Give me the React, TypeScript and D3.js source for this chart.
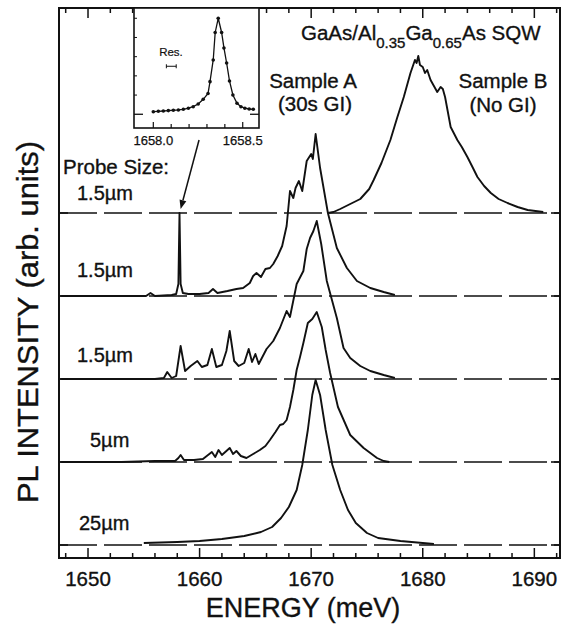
import React from "react";
import * as d3 from "d3";

// ---- Data ----
// Energies in meV, intensities in arbitrary units (trace spacing = 83 units)
const traceOffsets = [332, 249, 166, 83, 0];
const traceLabels = ["1.5\u00b5m", "1.5\u00b5m", "1.5\u00b5m", "5\u00b5m", "25\u00b5m"];

// Trace 1: Sample B (No GI), 1.5 µm probe
const sampleB15: [number, number][] = [
  [1671.5, 0], [1672.0, 1], [1672.6, 4], [1673.5, 9], [1674.4, 14], [1675.2, 24], [1675.6, 33],
  [1676.3, 50], [1677.1, 73], [1677.7, 95], [1678.3, 116], [1678.9, 140], [1679.3, 153],
  [1679.45, 150], [1679.6, 157], [1679.75, 148], [1680.0, 146], [1680.2, 140], [1680.4, 143],
  [1680.7, 133], [1681.3, 121], [1681.6, 126], [1681.8, 124], [1682.0, 116], [1682.5, 86],
  [1683.1, 73], [1683.5, 66], [1684.0, 56], [1684.5, 45], [1684.9, 36], [1685.5, 27],
  [1686.1, 20], [1686.8, 14], [1687.6, 10], [1688.5, 6], [1689.4, 3], [1690.8, 1],
];

// Trace 2: Sample A, 1.5 µm probe (with sharp line at 1658.2)
const sampleA15a: [number, number][] = [
  [1647.6, 0], [1652, 0], [1655.2, 0], [1655.6, 3], [1656, 0], [1657.5, 1], [1657.9, 2],
  [1658.1, 12], [1658.2, 83], [1658.3, 12], [1658.5, 3], [1659, 2], [1660, 2], [1660.8, 3],
  [1661.2, 7], [1661.6, 3], [1662.5, 5], [1663.3, 7], [1663.9, 8], [1664.5, 13], [1664.8, 20],
  [1665.1, 23], [1665.5, 19], [1665.9, 27], [1666.3, 28], [1666.6, 32], [1667.0, 40],
  [1667.4, 50], [1667.8, 70], [1668.1, 105], [1668.4, 98], [1668.6, 108], [1668.9, 115],
  [1669.2, 105], [1669.6, 135], [1670.0, 142], [1670.15, 137], [1670.4, 162], [1670.8, 128],
  [1671.5, 83], [1672.3, 48], [1673.2, 28], [1674.1, 15], [1675.3, 8], [1676.5, 4], [1677.5, 1],
];

// Trace 3: Sample A, 1.5 µm probe (another spot)
const sampleA15b: [number, number][] = [
  [1647.6, 0], [1656, 0], [1656.8, 1], [1657.1, 7], [1657.5, 1], [1657.9, 3], [1658.3, 33],
  [1658.7, 8], [1659.2, 13], [1659.8, 18], [1660.2, 12], [1660.7, 14], [1661.1, 30],
  [1661.5, 12], [1662.0, 14], [1662.4, 28], [1662.7, 48], [1663.1, 18], [1663.5, 13],
  [1664.0, 16], [1664.4, 30], [1664.7, 17], [1665.0, 25], [1665.3, 15], [1666.0, 30],
  [1666.6, 38], [1667.2, 51], [1667.8, 68], [1668.1, 62], [1668.7, 95], [1669.3, 108],
  [1669.6, 130], [1669.9, 141], [1670.2, 148], [1670.5, 158], [1670.9, 135], [1671.4, 98],
  [1672.3, 61], [1672.9, 31], [1673.5, 21], [1674.4, 13], [1675.3, 8], [1676.5, 4], [1677.5, 1],
];

// Trace 4: Sample A, 5 µm probe
const sampleA5: [number, number][] = [
  [1647.6, 0], [1653, 0], [1656, 1], [1657.8, 1], [1658.1, 4], [1658.3, 7], [1658.6, 2],
  [1659.5, 2], [1660.3, 3], [1661.1, 10], [1661.4, 5], [1661.7, 12], [1662, 7], [1662.4, 11],
  [1662.7, 14], [1663, 8], [1663.3, 11], [1663.7, 6], [1664.2, 4], [1664.8, 8], [1665.4, 12],
  [1665.9, 16], [1666.3, 22], [1666.8, 30], [1667.2, 37], [1667.5, 38], [1667.8, 42],
  [1668.1, 55], [1668.4, 72], [1668.7, 92], [1669.0, 105], [1669.3, 119], [1669.7, 139],
  [1670.1, 143], [1670.5, 150], [1670.95, 135], [1671.3, 112], [1671.7, 89], [1672.4, 55],
  [1673.5, 27], [1674.7, 14], [1675.9, 4], [1676.5, 1], [1677, 0],
];

// Trace 5: Sample A, 25 µm probe
const sampleA25: [number, number][] = [
  [1655, 2], [1658, 3], [1660, 4], [1662, 6], [1664, 9], [1665.5, 13], [1666.5, 18],
  [1667.3, 27], [1668, 38], [1668.7, 55], [1669.2, 80], [1669.7, 115], [1670.1, 150],
  [1670.4, 165], [1670.8, 150], [1671.3, 115], [1671.9, 80], [1672.6, 55], [1673.3, 35],
  [1674, 22], [1675, 12], [1676, 7], [1678, 4], [1680, 2], [1681, 1],
];

const traces = [sampleB15, sampleA15a, sampleA15b, sampleA5, sampleA25];

// Inset: high-resolution spectrum of the 1658.2 meV line
const insetEnergy = [
  1658.0, 1658.028, 1658.056, 1658.084, 1658.112, 1658.14, 1658.168, 1658.196, 1658.223,
  1658.251, 1658.279, 1658.306, 1658.317, 1658.335, 1658.346, 1658.363, 1658.382, 1658.395,
  1658.41, 1658.426, 1658.445, 1658.468, 1658.49, 1658.512, 1658.536, 1658.559,
];
const insetIntensity = [
  0.027, 0.031, 0.034, 0.038, 0.042, 0.045, 0.052, 0.063, 0.079, 0.107, 0.156, 0.217, 0.34,
  0.566, 0.852, 1.0, 0.852, 0.691, 0.534, 0.347, 0.201, 0.115, 0.079, 0.063, 0.055, 0.052,
];
const insetTickLabels = [1658.0, 1658.5];

const xMajorTicks = [1650, 1660, 1670, 1680, 1690];
const xMinorTicks = d3.range(1648, 1693, 2);

const FONT = "'Liberation Sans', Arial, Helvetica, sans-serif";
const INK = "#111";
const TS = 0.35; // slight text stroke to mimic the scanned print weight

export default function App() {
  const left = 59, right = 560, top = 8, bottom = 558;
  const x = d3.scaleLinear().domain([1647.4, 1692.3]).range([left, right]);
  const y = d3.scaleLinear().domain([-13, 537]).range([bottom, top]);

  const xi = d3.scaleLinear().domain([1657.892, 1658.591]).range([134, 259]);
  const yi = d3.scaleLinear().domain([-0.143, 1.107]).range([128, 8]);

  const lineFor = (off: number) =>
    d3
      .line<[number, number]>()
      .x((d) => x(d[0]))
      .y((d) => y(d[1] + off))
      .curve(d3.curveLinear);

  const insetPts = insetEnergy.map((e, i) => [e, insetIntensity[i]] as [number, number]);
  const insetLine = d3
    .line<[number, number]>()
    .x((d) => xi(d[0]))
    .y((d) => yi(d[1]));

  const labelY = [200, 277, 362, 447, 530];
  const labelX = [77, 77, 77, 90, 79];

  // Arrow from annotation to the sharp line
  const arrowStart: [number, number] = [1659.95, 405];
  const arrowEnd: [number, number] = [1658.3, 336];
  const ax1 = x(arrowStart[0]), ay1 = y(arrowStart[1]);
  const ax2 = x(arrowEnd[0]), ay2 = y(arrowEnd[1]);
  const ang = Math.atan2(ay2 - ay1, ax2 - ax1);
  const ah = 9, aw = 3.5;
  const headBase = [ax2 - ah * Math.cos(ang), ay2 - ah * Math.sin(ang)];
  const headPts = [
    [ax2, ay2],
    [headBase[0] + aw * Math.sin(ang), headBase[1] - aw * Math.cos(ang)],
    [headBase[0] - aw * Math.sin(ang), headBase[1] + aw * Math.cos(ang)],
  ];

  const txt = { fill: INK, stroke: INK, strokeWidth: TS };

  return (
    <svg
      width={577}
      height={628}
      style={{ position: "absolute", left: 0, top: 0, background: "#fff" }}
      fontFamily={FONT}
    >
      <rect x={0} y={0} width={577} height={628} fill="#fff" />

      {/* dashed baselines */}
      {traceOffsets.map((off, i) => (
        <line
          key={"bl" + i}
          x1={left}
          x2={right}
          y1={y(off)}
          y2={y(off)}
          stroke={INK}
          strokeWidth={1.6}
          strokeDasharray="38,7"
        />
      ))}

      {/* traces */}
      {traces.map((tr, i) => (
        <path
          key={"tr" + i}
          d={lineFor(traceOffsets[i])(tr) || ""}
          fill="none"
          stroke={INK}
          strokeWidth={1.9}
          strokeLinejoin="round"
        />
      ))}

      {/* frame */}
      <rect x={left} y={top} width={right - left} height={bottom - top} fill="none" stroke={INK} strokeWidth={2} />

      {/* x ticks bottom & top */}
      {xMinorTicks.map((t) => {
        const major = xMajorTicks.includes(t);
        const len = major ? 10 : 5;
        return (
          <g key={"xt" + t}>
            <line x1={x(t)} x2={x(t)} y1={bottom} y2={bottom - len} stroke={INK} strokeWidth={1.5} />
            <line x1={x(t)} x2={x(t)} y1={top} y2={top + len} stroke={INK} strokeWidth={1.5} />
          </g>
        );
      })}
      {xMajorTicks.map((t) => (
        <text key={"xl" + t} x={x(t)} y={586} textAnchor="middle" fontSize={20.5} {...txt}>
          {t}
        </text>
      ))}

      {/* y ticks at baselines */}
      {traceOffsets.map((off, i) => (
        <g key={"yt" + i}>
          <line x1={left} x2={left + 9} y1={y(off)} y2={y(off)} stroke={INK} strokeWidth={1.6} />
          <line x1={right} x2={right - 9} y1={y(off)} y2={y(off)} stroke={INK} strokeWidth={1.6} />
        </g>
      ))}

      {/* axis titles */}
      <text x={303} y={617} textAnchor="middle" fontSize={27} {...txt}>
        ENERGY (meV)
      </text>
      <text
        transform="translate(38,322) rotate(-90)"
        textAnchor="middle"
        fontSize={29}
        textLength={362}
        lengthAdjust="spacingAndGlyphs"
        {...txt}
      >
        PL INTENSITY (arb. units)
      </text>

      {/* trace labels */}
      <text x={63} y={174} fontSize={20.5} {...txt}>Probe Size:</text>
      {traceLabels.map((t, i) => (
        <text key={"lab" + i} x={labelX[i]} y={labelY[i]} fontSize={20} {...txt}>
          {t}
        </text>
      ))}

      <text x={313} y={88} textAnchor="middle" fontSize={20.5} {...txt}>Sample A</text>
      <text x={315} y={111} textAnchor="middle" fontSize={20.5} {...txt}>(30s GI)</text>
      <text x={503} y={88} textAnchor="middle" fontSize={20.5} {...txt}>Sample B</text>
      <text x={503} y={112} textAnchor="middle" fontSize={20.5} {...txt}>(No GI)</text>

      <text x={301} y={40} fontSize={20.5} {...txt}>
        GaAs/Al
        <tspan fontSize={15} dy={8}>0.35</tspan>
        <tspan dy={-8}>Ga</tspan>
        <tspan fontSize={15} dy={8}>0.65</tspan>
        <tspan dy={-8}>As SQW</tspan>
      </text>

      {/* arrow */}
      <line x1={ax1} y1={ay1} x2={headBase[0]} y2={headBase[1]} stroke={INK} strokeWidth={1.5} />
      <polygon points={headPts.map((p) => p.join(",")).join(" ")} fill={INK} />

      {/* inset */}
      <g>
        <rect x={134} y={8} width={125} height={120} fill="#fff" stroke={INK} strokeWidth={1.6} />
        {d3.range(1658.0, 1658.55, 0.1).map((t, i) => (
          <line key={"it" + i} x1={xi(t)} x2={xi(t)} y1={128} y2={128 - (i === 0 || i === 5 ? 6 : 4)} stroke={INK} strokeWidth={1.2} />
        ))}
        {[0.2, 0.4, 0.6, 0.8, 1.0].map((v, i) => (
          <line key={"iyt" + i} x1={134} x2={137} y1={yi(v)} y2={yi(v)} stroke={INK} strokeWidth={1} />
        ))}
        <line x1={134} x2={143} y1={yi(0)} y2={yi(0)} stroke={INK} strokeWidth={1.3} />
        <line x1={259} x2={250} y1={yi(0)} y2={yi(0)} stroke={INK} strokeWidth={1.3} />
        <path d={insetLine(insetPts) || ""} fill="none" stroke={INK} strokeWidth={1.3} />
        {insetPts.map((p, i) => (
          <circle key={"ip" + i} cx={xi(p[0])} cy={yi(p[1])} r={1.8} fill={INK} />
        ))}
        <text x={171} y={56} textAnchor="middle" fontSize={11.5} {...txt} strokeWidth={0.2}>Res.</text>
        <g stroke={INK} strokeWidth={1}>
          <line x1={xi(1658.073)} x2={xi(1658.128)} y1={yi(0.5)} y2={yi(0.5)} />
          <line x1={xi(1658.073)} x2={xi(1658.073)} y1={yi(0.5) - 2} y2={yi(0.5) + 2} />
          <line x1={xi(1658.128)} x2={xi(1658.128)} y1={yi(0.5) - 2} y2={yi(0.5) + 2} />
        </g>
        {insetTickLabels.map((t) => (
          <text key={"itl" + t} x={xi(t)} y={145} textAnchor="middle" fontSize={13} {...txt} strokeWidth={0.25}>
            {t.toFixed(1)}
          </text>
        ))}
      </g>
    </svg>
  );
}
